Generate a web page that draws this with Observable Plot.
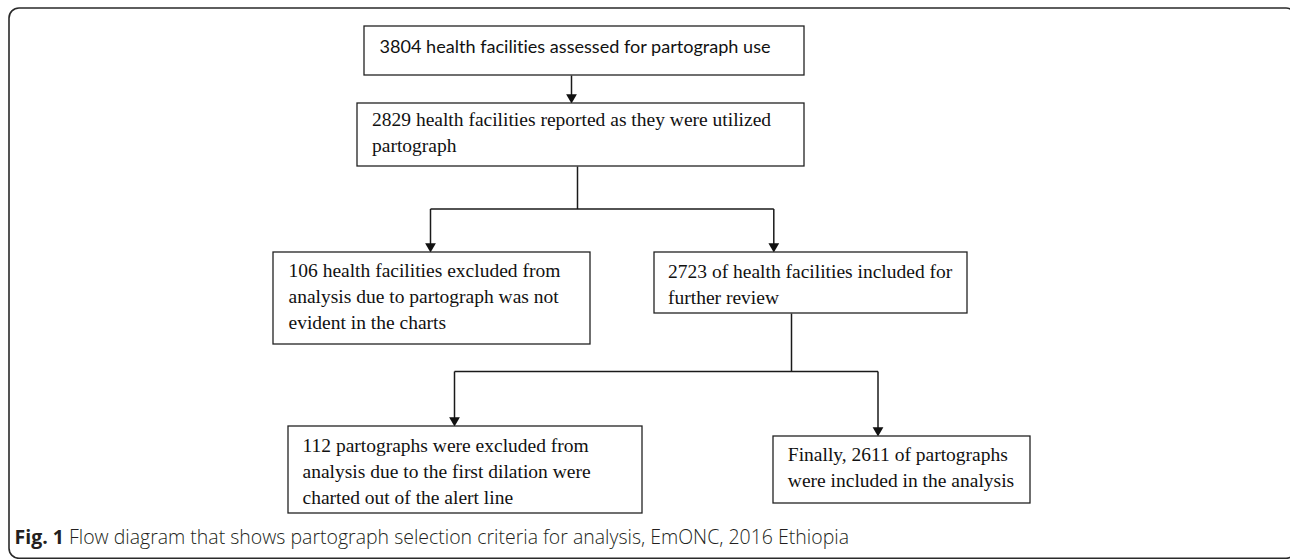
<!DOCTYPE html>
<html>
<head>
<meta charset="utf-8">
<script src="https://cdn.jsdelivr.net/npm/d3@7"></script>
<script src="https://cdn.jsdelivr.net/npm/@observablehq/plot@0.6"></script>
<style>
  html, body { margin: 0; padding: 0; background: #fff; }
  #chart svg { display: block; }
  #chart text { font-variant-ligatures: none; font-feature-settings: "liga" 0, "clig" 0; }
</style>
</head>
<body>
<div id="chart"></div>
<script>
// ---- Data: counts and box labels of the flow diagram ----
const counts = [3804, 2829, 106, 2723, 112, 2611];
const labels = [
  "3804 health facilities assessed for partograph use",
  "2829 health facilities reported as they were utilized\npartograph",
  "106 health facilities excluded from\nanalysis due to partograph was not\nevident in the charts",
  "2723 of health facilities included for\nfurther review",
  "112 partographs were excluded from\nanalysis due to the first dilation were\ncharted out of the alert line",
  "Finally, 2611 of partographs\nwere included in the analysis"
];
const captionBold = "Fig. 1";
const captionText = "Flow diagram that shows partograph selection criteria for analysis, EmONC, 2016 Ethiopia";

// ---- Layout (geometry of the diagram, pixels) ----
const W = 1290, H = 559;
const layout = [
  {x1: 364, x2: 804, y1: 26,  y2: 75,  pad: 15,   base: 26,   font: "sans"},
  {x1: 357, x2: 804, y1: 103, y2: 166, pad: 14.5, base: 22.5, font: "serif"},
  {x1: 273, x2: 590, y1: 252, y2: 344, pad: 15,   base: 25,   font: "serif"},
  {x1: 654, x2: 967, y1: 252, y2: 313, pad: 13.5, base: 25.3, font: "serif"},
  {x1: 288, x2: 642, y1: 426, y2: 513, pad: 14,   base: 25.7, font: "serif"},
  {x1: 773, x2: 1030, y1: 436, y2: 503, pad: 14.3, base: 24.5, font: "serif"}
];
const flows = [
  {from: 0, to: [1], xs: [571]},
  {from: 1, stemX: 577, busY: 208.5, to: [2, 3], xs: [430, 773.3]},
  {from: 3, stemX: 791, busY: 371, to: [4, 5], xs: [454, 877.5]}
];

const boxes = labels.map((label, i) => ({label, count: counts[i], ...layout[i]}));

// connector segments and arrow tips derived from the layout
const segments = [], tips = [];
for (const f of flows) {
  const src = boxes[f.from];
  if (f.stemX == null) {
    f.to.forEach((t, j) => {
      segments.push({x1: f.xs[j], y1: src.y2, x2: f.xs[j], y2: boxes[t].y1 - 3});
      tips.push({x: f.xs[j], y: boxes[t].y1});
    });
  } else {
    segments.push({x1: f.stemX, y1: src.y2, x2: f.stemX, y2: f.busY});
    segments.push({x1: f.xs[0], y1: f.busY, x2: f.xs[f.xs.length - 1], y2: f.busY});
    f.to.forEach((t, j) => {
      segments.push({x1: f.xs[j], y1: f.busY, x2: f.xs[j], y2: boxes[t].y1 - 3});
      tips.push({x: f.xs[j], y: boxes[t].y1});
    });
  }
}

// ---- Fonts ----
const serifFont = "Liberation Serif, Times New Roman, serif";
const sansFont = "Lato, Open Sans, sans-serif";
const capFont = "Open Sans, Noto Sans, sans-serif";
const serifSize = 19.5;
const lineHeight = 1.333;
const arrowR = 4;

const ctx = document.createElement("canvas").getContext("2d");
function measure(text, family, size, weight = 400) {
  ctx.font = `${weight} ${size}px ${family}`;
  return ctx.measureText(text).width;
}
// fit the sans box text to its width in the figure
const sansSize = 100 * 392 / measure(labels[0], "Lato", 100);
// caption fit: spans from x=14 to x=849
const capTotal = measure(captionBold + " ", "Open Sans", 100, 700) + measure(captionText, "Open Sans", 100, 300);
const capSize = 100 * 835 / capTotal;
const capX = 14;
const capX2 = capX + measure(captionBold + " ", "Open Sans", capSize, 700);
const capBase = 543.5;

const serifBoxes = boxes.filter(d => d.font === "serif");
const sansBoxes = boxes.filter(d => d.font === "sans");

const chart = Plot.plot({
  width: W,
  height: H,
  margin: 0,
  x: {domain: [0, W], range: [0, W], axis: null},
  y: {domain: [0, H], range: [0, H], axis: null},
  style: {background: "#fff", overflow: "hidden"},
  marks: [
    // outer rounded frame
    Plot.rect([{}], {x1: 9, x2: 1296, y1: 8, y2: 558.3, rx: 10, fill: "none", stroke: "#2a2a2a", strokeWidth: 1.6}),
    // connectors
    Plot.link(segments, {x1: "x1", y1: "y1", x2: "x2", y2: "y2", stroke: "#1a1a1a", strokeWidth: 1.5}),
    // arrow heads
    Plot.dot(tips, {x: "x", y: d => d.y - 2 * 0.7776 * arrowR, symbol: "triangle", rotate: 180, r: arrowR, fill: "#111", strokeWidth: 0}),
    // boxes
    Plot.rect(boxes, {x1: "x1", x2: "x2", y1: "y1", y2: "y2", fill: "#fff", stroke: "#222", strokeWidth: 1.3}),
    // box texts
    Plot.text(serifBoxes, {
      x: d => d.x1 + d.pad,
      y: d => d.y1 + d.base - 0.71 * lineHeight * serifSize,
      text: "label", textAnchor: "start", lineAnchor: "top", lineHeight,
      fontFamily: serifFont, fontSize: serifSize, fill: "#111"
    }),
    Plot.text(sansBoxes, {
      x: d => d.x1 + d.pad,
      y: d => d.y1 + d.base,
      text: "label", textAnchor: "start", lineAnchor: "bottom",
      fontFamily: sansFont, fontSize: sansSize, fill: "#111"
    }),
    // caption
    Plot.text([captionBold], {x: capX, y: capBase, text: d => d, textAnchor: "start", lineAnchor: "bottom",
      fontFamily: capFont, fontSize: capSize, fontWeight: 700, fill: "#231f20"}),
    Plot.text([captionText], {x: capX2, y: capBase, text: d => d, textAnchor: "start", lineAnchor: "bottom",
      fontFamily: capFont, fontSize: capSize, fontWeight: 300, fill: "#231f20"})
  ]
});
document.getElementById("chart").appendChild(chart);
</script>
</body>
</html>
